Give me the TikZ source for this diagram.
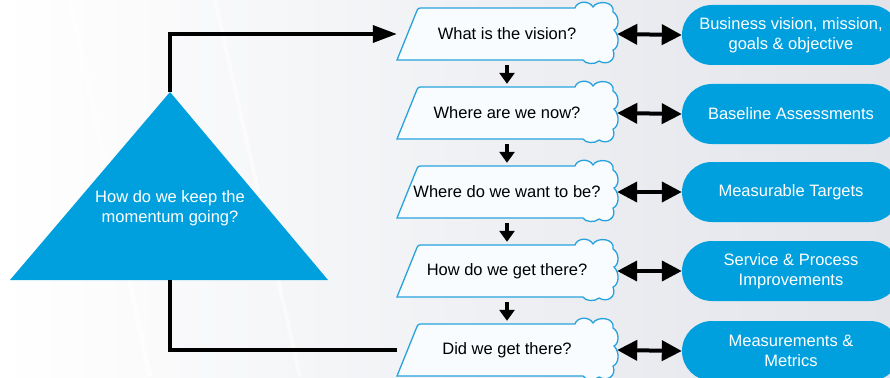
\documentclass[tikz,border=0pt]{standalone}
\usepackage{fontspec}
\setmainfont{Liberation Sans}
\usetikzlibrary{arrows.meta}

\definecolor{skyblue}{RGB}{0,160,223}
\definecolor{edgeblue}{RGB}{40,162,220}
\definecolor{paleblue}{RGB}{248,252,255}
\definecolor{bgright}{RGB}{226,228,234}

\begin{document}
\begin{tikzpicture}[x=1pt, y=-1pt,
        qnode/.style={minimum width=220pt, minimum height=52pt, inner sep=0pt, font=\fontsize{16.5}{19}\selectfont},
        pillnode/.style={rounded corners=30pt, fill=skyblue, text=white, minimum width=218pt, minimum height=60pt, inner sep=0pt, align=center, font=\fontsize{16.5}{19.5}\selectfont},
        trinode/.style={text=white, align=center, font=\fontsize{16.5}{20}\selectfont},
        qshape/.pic={
            \draw[edgeblue, fill=paleblue, line width=1.3pt]
                (-110,26) -- (-91,-21) .. controls (-89,-26) .. (-84,-26) -- (68,-26)
                .. controls (70,-33) and (82,-34) .. (86,-27)
                .. controls (90,-34) and (108,-33) .. (106,-22)
                .. controls (113,-18) and (112,-6) .. (107,-4)
                .. controls (113,2) and (112,14) .. (106,16)
                .. controls (110,26) and (100,32) .. (92,27)
                .. controls (88,31) and (78,30) .. (76,26) -- cycle;
        },
        linkarrow/.style={line width=4pt, {Triangle[length=20pt,width=20pt]}-{Triangle[length=20pt,width=20pt]}},
        downarrow/.style={line width=3.5pt, -{Triangle[length=11pt,width=15pt]}, shorten <=5pt, shorten >=3pt},
        loopline/.style={line width=3.5pt},
        ]

        \useasboundingbox (0,0) rectangle (890,377);
        \fill[left color=white, right color=bgright] (0,0) rectangle (890,377);
        \draw[white, line width=5pt, opacity=0.6] (70,0) -- (150,377);
        \draw[white, line width=4pt, opacity=0.5] (215,0) -- (300,377);

        % Question shapes
        \pic at (507,34) {qshape};
        \pic at (507,113) {qshape};
        \pic at (507,192) {qshape};
        \pic at (507,271) {qshape};
        \pic at (507,350) {qshape};

        % Nodes
        \node[qnode] (q1) at (507,34) {What is the vision?};
        \node[qnode] (q2) at (507,113) {Where are we now?};
        \node[qnode] (q3) at (507,192) {Where do we want to be?};
        \node[qnode] (q4) at (507,271) {How do we get there?};
        \node[qnode] (q5) at (507,350) {Did we get there?};

        \node[pillnode] (r1) at (791,35) {Business vision, mission,\\goals \& objective};
        \node[pillnode] (r2) at (791,114) {Baseline Assessments};
        \node[pillnode] (r3) at (791,192) {Measurable Targets};
        \node[pillnode] (r4) at (791,271) {Service \& Process\\Improvements};
        \node[pillnode] (r5) at (791,351) {Measurements \&\\Metrics};

        % Triangle
        \fill[skyblue] (170,92) -- (328,280) -- (10,280) -- cycle;
        \coordinate (apex) at (170,92);
        \coordinate (base) at (170,280);
        \node[trinode] (tri) at (170,208) {How do we keep the\\momentum going?};

        \draw[downarrow] (q1.south) -- (q2.north);
        \draw[downarrow] (q2.south) -- (q3.north);
        \draw[downarrow] (q3.south) -- (q4.north);
        \draw[downarrow] (q4.south) -- (q5.north);

        \draw[linkarrow] (q1.east) -- (r1.west);
        \draw[linkarrow] (q2.east) -- (r2.west);
        \draw[linkarrow] (q3.east) -- (r3.west);
        \draw[linkarrow] (q4.east) -- (r4.west);
        \draw[linkarrow] (q5.east) -- (r5.west);

        \draw[loopline, -{Triangle[length=24pt,width=17pt]}] (apex) |- (q1.west);
        \draw[loopline] (base) |- (q5.west);

    \end{tikzpicture}
\end{document}
